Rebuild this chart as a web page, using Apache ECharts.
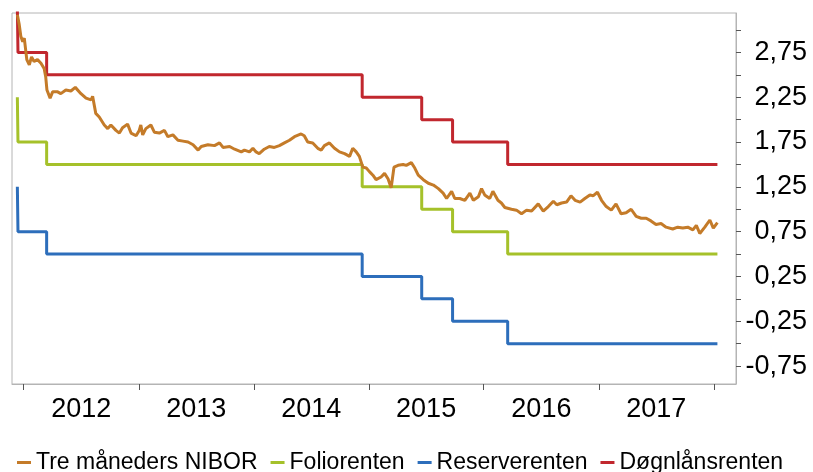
<!DOCTYPE html>
<html>
<head>
<meta charset="utf-8">
<script src="https://cdn.jsdelivr.net/npm/echarts@6/dist/echarts.min.js"></script>
<style>html,body{margin:0;padding:0;background:#fff}#c{width:813px;height:472px}</style>
</head>
<body>
<div id="c"></div>
<script>
// ---- data ----
var seriesNames = ['Tre måneders NIBOR', 'Foliorenten', 'Reserverenten', 'Døgnlånsrenten'];

var niborDates = ['2011-12-12','2011-12-18','2011-12-23','2011-12-29','2012-01-03','2012-01-11','2012-01-19','2012-01-26','2012-02-03','2012-02-14','2012-02-25','2012-03-06','2012-03-11','2012-03-15','2012-03-25','2012-04-02','2012-04-18','2012-04-28','2012-05-14','2012-05-30','2012-06-13','2012-07-01','2012-07-17','2012-08-02','2012-08-07','2012-08-17','2012-08-28','2012-09-13','2012-09-24','2012-10-04','2012-10-20','2012-10-31','2012-11-10','2012-11-26','2012-12-07','2012-12-23','2013-01-02','2013-01-07','2013-01-13','2013-01-23','2013-02-08','2013-02-19','2013-03-07','2013-03-23','2013-04-03','2013-04-19','2013-05-05','2013-05-21','2013-06-06','2013-06-22','2013-07-08','2013-07-18','2013-08-08','2013-08-29','2013-09-14','2013-09-25','2013-10-16','2013-11-01','2013-11-22','2013-12-02','2013-12-18','2013-12-29','2014-01-08','2014-01-18','2014-02-03','2014-02-19','2014-03-07','2014-03-23','2014-04-08','2014-04-24','2014-05-10','2014-05-31','2014-06-10','2014-06-21','2014-07-07','2014-07-23','2014-08-03','2014-08-13','2014-08-29','2014-09-14','2014-09-30','2014-10-16','2014-11-01','2014-11-11','2014-11-22','2014-12-02','2014-12-13','2014-12-24','2015-01-03','2015-01-14','2015-01-24','2015-02-09','2015-02-20','2015-03-03','2015-03-13','2015-03-22','2015-04-04','2015-04-20','2015-04-30','2015-05-16','2015-05-27','2015-06-07','2015-06-23','2015-07-09','2015-07-25','2015-08-10','2015-08-25','2015-09-05','2015-09-21','2015-10-01','2015-10-17','2015-11-02','2015-11-18','2015-11-29','2015-12-15','2015-12-25','2016-01-04','2016-01-20','2016-01-30','2016-02-15','2016-02-26','2016-03-08','2016-03-29','2016-04-14','2016-04-30','2016-05-16','2016-06-01','2016-06-22','2016-07-08','2016-07-24','2016-08-09','2016-08-20','2016-09-04','2016-09-20','2016-10-04','2016-10-17','2016-11-02','2016-11-17','2016-12-03','2016-12-13','2016-12-27','2017-01-09','2017-01-24','2017-02-09','2017-02-24','2017-03-12','2017-03-28','2017-04-13','2017-04-29','2017-05-15','2017-05-31','2017-06-15','2017-07-01','2017-07-17','2017-08-02','2017-08-23','2017-09-08','2017-09-24','2017-10-10','2017-10-26','2017-11-06','2017-11-17','2017-12-03','2017-12-19','2017-12-30','2018-01-12'];
var niborValues = [3.17,3.06,2.93,2.87,2.91,2.67,2.61,2.70,2.65,2.67,2.63,2.57,2.48,2.33,2.24,2.31,2.31,2.29,2.33,2.32,2.36,2.29,2.24,2.22,2.26,2.07,2.03,1.94,1.90,1.94,1.88,1.85,1.91,1.95,1.85,1.82,1.88,1.94,1.83,1.90,1.94,1.86,1.85,1.88,1.81,1.83,1.77,1.76,1.75,1.72,1.66,1.70,1.72,1.71,1.74,1.69,1.70,1.67,1.64,1.66,1.64,1.68,1.64,1.62,1.67,1.70,1.69,1.71,1.74,1.77,1.81,1.84,1.82,1.75,1.74,1.68,1.66,1.71,1.74,1.68,1.64,1.62,1.59,1.68,1.64,1.59,1.47,1.46,1.42,1.38,1.33,1.36,1.40,1.34,1.24,1.47,1.49,1.50,1.49,1.52,1.46,1.38,1.33,1.29,1.27,1.23,1.18,1.12,1.20,1.12,1.12,1.10,1.18,1.10,1.14,1.23,1.16,1.12,1.20,1.10,1.07,1.02,1.00,0.99,0.95,0.99,0.98,1.06,0.98,1.03,1.09,1.05,1.07,1.08,1.15,1.10,1.08,1.12,1.16,1.15,1.19,1.10,1.03,0.99,1.06,0.95,0.96,1.00,0.92,0.90,0.90,0.87,0.83,0.84,0.80,0.78,0.80,0.79,0.80,0.77,0.82,0.73,0.80,0.88,0.79,0.85];

var policyDates = ['2011-12-12','2011-12-14','2012-03-14','2014-12-11','2015-06-18','2015-09-24','2016-03-17','2018-01-12'];
var folioValues   = [2.25, 1.75, 1.50, 1.25, 1.00, 0.75, 0.50, 0.50];
var reserveValues = [1.25, 0.75, 0.50, 0.25, 0.00, -0.25, -0.50, -0.50];
var lendingValues = [3.25, 2.75, 2.50, 2.25, 2.00, 1.75, 1.50, 1.50];

var xRange = ['2011-11-25', '2018-03-12'];
var yearTicks  = ['2012-01-01','2013-01-01','2014-01-01','2015-01-01','2016-01-01','2017-01-01','2018-01-01'];
var yearLabels = ['2012-07-02','2013-07-02','2014-07-02','2015-07-02','2016-07-02','2017-07-02'];
var yTicks  = [-0.75,-0.5,-0.25,0,0.25,0.5,0.75,1,1.25,1.5,1.75,2,2.25,2.5,2.75,3];
var yLabels = [-0.75,-0.25,0.25,0.75,1.25,1.75,2.25,2.75];

function ts(s) { var p = s.split('-'); return Date.UTC(+p[0], +p[1] - 1, +p[2]); }
function pairs(d, v) { return d.map(function (x, i) { return [ts(x), v[i]]; }); }

var colors = ['#C47B29', '#A5C12A', '#2D6EBB', '#C1272E'];
var font = 'Liberation Sans, Arial, sans-serif';

var chart = echarts.init(document.getElementById('c'), null, { renderer: 'canvas' });
chart.setOption({
  animation: false,
  color: colors,
  grid: { left: 12, right: 77, top: 13, bottom: 88, show: true, borderColor: '#B4B4B4', borderWidth: 1, containLabel: false },
  legend: {
    data: seriesNames,
    left: 12, top: 446,
    icon: 'rect', itemWidth: 14, itemHeight: 3, itemGap: 13,
    textStyle: { fontFamily: font, fontSize: 23, color: '#000' }
  },
  xAxis: {
    type: 'value',
    min: ts(xRange[0]), max: ts(xRange[1]),
    axisLine: { show: true, onZero: false, lineStyle: { color: '#B4B4B4', width: 1 } },
    axisTick: { show: true, length: 6, lineStyle: { color: '#555' }, customValues: yearTicks.map(ts) },
    axisLabel: {
      customValues: yearLabels.map(ts), margin: 12,
      fontFamily: font, fontSize: 27, color: '#000',
      formatter: function (v) { return String(new Date(v).getUTCFullYear()); }
    },
    splitLine: { show: false }
  },
  yAxis: {
    type: 'value', position: 'right',
    min: -0.95, max: 3.19,
    axisLine: { show: true, lineStyle: { color: '#B4B4B4', width: 1 } },
    axisTick: { show: true, length: 5, inside: false, lineStyle: { color: '#555' }, customValues: yTicks },
    axisLabel: {
      customValues: yLabels, margin: 71, align: 'right',
      fontFamily: font, fontSize: 27, color: '#000',
      formatter: function (v) { return v.toFixed(2).replace('.', ','); }
    },
    splitLine: { show: false }
  },
  series: [
    { name: seriesNames[0], type: 'line', data: pairs(niborDates, niborValues), showSymbol: false, symbol: 'none', z: 5, lineStyle: { width: 3, color: colors[0] } },
    { name: seriesNames[1], type: 'line', step: 'end', data: pairs(policyDates, folioValues), showSymbol: false, symbol: 'none', z: 3, lineStyle: { width: 3, color: colors[1] } },
    { name: seriesNames[2], type: 'line', step: 'end', data: pairs(policyDates, reserveValues), showSymbol: false, symbol: 'none', z: 3, lineStyle: { width: 3, color: colors[2] } },
    { name: seriesNames[3], type: 'line', step: 'end', data: pairs(policyDates, lendingValues), showSymbol: false, symbol: 'none', z: 3, lineStyle: { width: 3, color: colors[3] } }
  ]
});
</script>
</body>
</html>
